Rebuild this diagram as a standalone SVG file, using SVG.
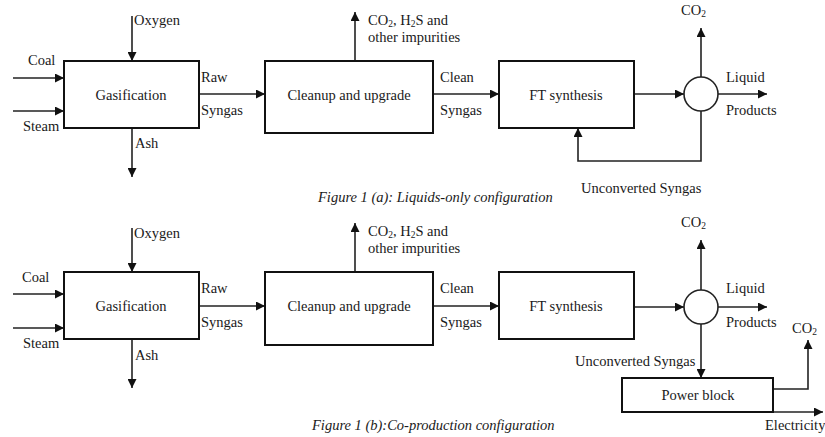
<svg xmlns="http://www.w3.org/2000/svg" width="825" height="437" viewBox="0 0 825 437">
<style>
text{font-family:"Liberation Serif","Times New Roman",serif;font-size:14.5px;fill:#1a1a1a}
.c{text-anchor:middle}
.cap{font-style:italic}
.box{fill:#fff;stroke:#111;stroke-width:2}
.ln{fill:none;stroke:#222;stroke-width:1.6}
.sub{font-size:9.5px}
</style>
<defs>
<marker id="ah" viewBox="0 0 10 10" refX="10" refY="5" markerWidth="10" markerHeight="9" markerUnits="userSpaceOnUse" orient="auto">
<path d="M0,0 L10,5 L0,10 z" fill="#111"/>
</marker>
</defs>
<rect width="825" height="437" fill="#fff"/>

<g id="connectors">
<path class="ln" marker-end="url(#ah)" d="M132,16 V61"/>
<path class="ln" marker-end="url(#ah)" d="M13,78 H64"/>
<path class="ln" marker-end="url(#ah)" d="M13,111 H64"/>
<path class="ln" marker-end="url(#ah)" d="M132,128 V177"/>
<path class="ln" marker-end="url(#ah)" d="M199,94 H265"/>
<path class="ln" marker-end="url(#ah)" d="M355,61 V12"/>
<path class="ln" marker-end="url(#ah)" d="M433,94 H499"/>
<path class="ln" marker-end="url(#ah)" d="M634,94 H684"/>
<path class="ln" marker-end="url(#ah)" d="M701,77 V28"/>
<path class="ln" marker-end="url(#ah)" d="M718,94 H767"/>
<path class="ln" marker-end="url(#ah)" d="M701,111 V161 H578 V128"/>

<path class="ln" marker-end="url(#ah)" d="M132,228 V272"/>
<path class="ln" marker-end="url(#ah)" d="M13,294 H64"/>
<path class="ln" marker-end="url(#ah)" d="M13,328 H64"/>
<path class="ln" marker-end="url(#ah)" d="M132,339 V388"/>
<path class="ln" marker-end="url(#ah)" d="M199,306 H265"/>
<path class="ln" marker-end="url(#ah)" d="M355,272 V223"/>
<path class="ln" marker-end="url(#ah)" d="M433,306 H499"/>
<path class="ln" marker-end="url(#ah)" d="M634,307 H684"/>
<path class="ln" marker-end="url(#ah)" d="M701,290 V240"/>
<path class="ln" marker-end="url(#ah)" d="M718,307 H767"/>
<path class="ln" marker-end="url(#ah)" d="M701,324 V378"/>
<path class="ln" marker-end="url(#ah)" d="M773,389 H808 V340"/>
<path class="ln" marker-end="url(#ah)" d="M773,412 H823"/>
</g>

<g id="gasification-a"><rect class="box" x="64" y="61" width="135" height="67"/><text class="c" x="131" y="100">Gasification</text></g>
<g id="cleanup-a"><rect class="box" x="265" y="61" width="168" height="72"/><text class="c" x="349" y="100">Cleanup and upgrade</text></g>
<g id="ft-a"><rect class="box" x="499" y="61" width="135" height="67"/><text class="c" x="566" y="100">FT synthesis</text></g>
<g id="splitter-a"><circle cx="701" cy="94" r="17" fill="#fff" stroke="#222" stroke-width="1.6"/></g>

<g id="gasification-b"><rect class="box" x="64" y="272" width="135" height="67"/><text class="c" x="131" y="311">Gasification</text></g>
<g id="cleanup-b"><rect class="box" x="265" y="272" width="168" height="73"/><text class="c" x="349" y="311">Cleanup and upgrade</text></g>
<g id="ft-b"><rect class="box" x="499" y="272" width="135" height="67"/><text class="c" x="566" y="311">FT synthesis</text></g>
<g id="splitter-b"><circle cx="701" cy="307" r="17" fill="#fff" stroke="#222" stroke-width="1.6"/></g>
<g id="powerblock-b"><rect class="box" x="622" y="378" width="151" height="34"/><text class="c" x="698" y="400">Power block</text></g>

<g id="labels-a">
<text x="134" y="25">Oxygen</text>
<text x="28" y="65">Coal</text>
<text x="23" y="131">Steam</text>
<text x="135" y="148">Ash</text>
<text x="201" y="82">Raw</text>
<text x="201" y="115">Syngas</text>
<text x="368" y="25">CO<tspan class="sub" dy="2">2</tspan><tspan dy="-2">, H</tspan><tspan class="sub" dy="2">2</tspan><tspan dy="-2">S and</tspan></text>
<text x="368" y="42">other impurities</text>
<text x="440" y="82">Clean</text>
<text x="440" y="115">Syngas</text>
<text x="681" y="15">CO<tspan class="sub" dy="2">2</tspan></text>
<text x="726" y="82">Liquid</text>
<text x="726" y="115">Products</text>
<text x="581" y="193">Unconverted Syngas</text>
<text class="cap" x="318" y="202">Figure 1 (a): Liquids-only configuration</text>
</g>

<g id="labels-b">
<text x="134" y="238">Oxygen</text>
<text x="22" y="282">Coal</text>
<text x="23" y="348">Steam</text>
<text x="135" y="360">Ash</text>
<text x="201" y="293">Raw</text>
<text x="201" y="327">Syngas</text>
<text x="368" y="236">CO<tspan class="sub" dy="2">2</tspan><tspan dy="-2">, H</tspan><tspan class="sub" dy="2">2</tspan><tspan dy="-2">S and</tspan></text>
<text x="368" y="253">other impurities</text>
<text x="440" y="293">Clean</text>
<text x="440" y="327">Syngas</text>
<text x="681" y="227">CO<tspan class="sub" dy="2">2</tspan></text>
<text x="726" y="293">Liquid</text>
<text x="726" y="327">Products</text>
<text x="575" y="366">Unconverted Syngas</text>
<text x="792" y="333">CO<tspan class="sub" dy="2">2</tspan></text>
<text x="765" y="430">Electricity</text>
<text class="cap" x="312" y="430">Figure 1 (b):Co-production configuration</text>
</g>
</svg>
